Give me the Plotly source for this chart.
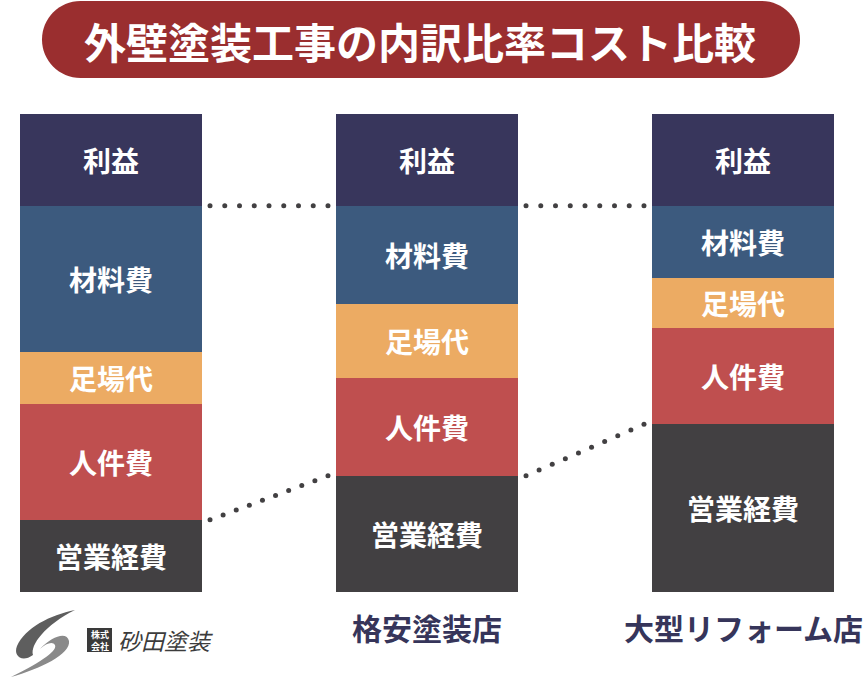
import numpy as np
import plotly.graph_objects as go

W, H = 867, 678
M_T = 114
M_B = H - 592

# ---- data ----
categories = ["砂田塗装", "格安塗装店", "大型リフォーム店"]
tick_labels = ["", "格安塗装店", "大型リフォーム店"]
segment_names = ["営業経費", "人件費", "足場代", "材料費", "利益"]  # bottom -> top
eigyo = [15.1, 24.3, 35.1]
jinken = [24.3, 20.5, 20.1]
ashiba = [10.9, 15.5, 10.5]
zairyo = [30.5, 20.5, 15.1]
rieki = [19.2, 19.2, 19.2]
title_text = "外壁塗装工事の内訳比率コスト比較"
company = "砂田塗装"

series = [eigyo, jinken, ashiba, zairyo, rieki]
seg_colors = ["#424042", "#bf4f4f", "#ecab63", "#3c5a7e", "#38365c"]

FONT = "Noto Sans CJK JP"
PX_PER_UNIT = 316.0
X0_REF = 111  # pixel of first bar centre
XR0 = -X0_REF / PX_PER_UNIT
XR = [XR0, XR0 + W / PX_PER_UNIT]
YR = [0, 100]
BAR_W = 0.576
px_x = W / (XR[1] - XR[0])
px_y = (H - M_T - M_B) / (YR[1] - YR[0])

xs = list(range(len(categories)))
fig = go.Figure()
for name, vals, col in zip(segment_names, series, seg_colors):
    fig.add_trace(go.Bar(
        x=xs, y=vals, name=name, width=BAR_W,
        marker=dict(color=col, line=dict(width=0)),
        text=[name] * len(xs), textposition="inside",
        insidetextanchor="middle", textangle=0,
        textfont=dict(family=FONT, size=28, color="white", weight="bold"),
        constraintext="none", hovertext=categories, hoverinfo="text+y",
    ))

# ---- dotted connectors ----
cum = np.cumsum(np.array(series), axis=0)
GAP = 8 / px_x
SPACING = 14.4


def dot_line(i, ya, yb):
    x0 = i + BAR_W / 2 + GAP
    x1 = i + 1 - BAR_W / 2 - GAP
    length = np.hypot((x1 - x0) * px_x, (yb - ya) * px_y)
    n = int(round(length / SPACING)) + 1
    return np.linspace(x0, x1, n), np.linspace(ya, yb, n)


for row in (3, 0):  # base of 利益, top of 営業経費
    for i in range(len(categories) - 1):
        dx, dy = dot_line(i, cum[row][i], cum[row][i + 1])
        fig.add_trace(go.Scatter(x=dx, y=dy, mode="markers",
                                 marker=dict(size=5, color="#424042"),
                                 hoverinfo="skip", showlegend=False))


# ---- helpers: pixel -> paper ----
def pxp(x):
    return x / W


def pyp(y):
    return (H - M_B - y) / (H - M_T - M_B)


def path_from(cmds):
    out = []
    for c in cmds:
        if isinstance(c, str):
            out.append(c)
        else:
            out.append(f"{pxp(c[0]):.5f},{pyp(c[1]):.5f}")
    return " ".join(out)


shapes = []
# title pill
L, R, T, B = 42, 800, 1, 78
r = (B - T) / 2
k = 0.5523 * r
pill = path_from(["M", (L + r, T), "L", (R - r, T),
                  "C", (R - r + k, T), (R, T + r - k), (R, T + r),
                  "C", (R, T + r + k), (R - r + k, B), (R - r, B),
                  "L", (L + r, B),
                  "C", (L + r - k, B), (L, T + r + k), (L, T + r),
                  "C", (L, T + r - k), (L + r - k, T), (L + r, T), "Z"])
shapes.append(dict(type="path", xref="paper", yref="paper", path=pill,
                   fillcolor="#9a2e2f", line=dict(width=0), layer="above"))

# logo swooshes
sw1 = path_from(["M", (75, 610), "C", (50, 615), (25, 628), (17, 646),
                 "C", (13, 656), (22, 663), (33, 655),
                 "C", (30, 645), (45, 625), (75, 610), "Z"])
sw2 = path_from(["M", (40, 649), "C", (52, 636), (67, 631), (69, 641),
                 "C", (71, 654), (40, 669), (11, 677),
                 "C", (35, 665), (58, 652), (55, 645),
                 "C", (53, 641), (46, 643), (40, 649), "Z"])
shapes.append(dict(type="path", xref="paper", yref="paper", path=sw1,
                   fillcolor="#5e5e5e", line=dict(width=0)))
shapes.append(dict(type="path", xref="paper", yref="paper", path=sw2,
                   fillcolor="#8a8a8a", line=dict(width=0)))
# 株式会社 box
shapes.append(dict(type="rect", xref="paper", yref="paper",
                   x0=pxp(87), x1=pxp(112), y0=pyp(652), y1=pyp(628),
                   fillcolor="#3a3a3a", line=dict(width=0)))

annotations = [
    dict(text=title_text, x=pxp(420), y=pyp(40), xref="paper", yref="paper",
         showarrow=False, xanchor="center", yanchor="middle",
         font=dict(family=FONT, size=42, color="white", weight="bold")),
    dict(text="株式<br>会社", x=pxp(99.5), y=pyp(640), xref="paper", yref="paper",
         showarrow=False, xanchor="center", yanchor="middle", borderpad=0,
         font=dict(family=FONT, size=9, color="white", weight="bold")),
    dict(text=company, x=pxp(117), y=pyp(640), xref="paper", yref="paper",
         showarrow=False, xanchor="left", yanchor="middle", borderpad=0,
         font=dict(family=FONT, size=23, color="#3c3c3c", style="italic")),
]
for i, lab in enumerate(tick_labels):
    if lab:
        annotations.append(dict(text=lab, x=xs[i], y=pyp(627), xref="x", yref="paper",
                                showarrow=False, xanchor="center", yanchor="middle",
                                font=dict(family=FONT, size=30, color="#36355a",
                                          weight="bold")))

fig.update_layout(
    width=W, height=H,
    margin=dict(l=0, r=0, t=M_T, b=M_B, pad=0),
    barmode="stack", showlegend=False,
    paper_bgcolor="white", plot_bgcolor="white",
    xaxis=dict(range=XR, visible=False, fixedrange=True),
    yaxis=dict(range=YR, visible=False, fixedrange=True),
    shapes=shapes, annotations=annotations,
)

fig.write_html("out.html",
               config={"displayModeBar": False},
               post_script="document.body.style.margin='0';"
                           "document.body.style.overflow='hidden';")
